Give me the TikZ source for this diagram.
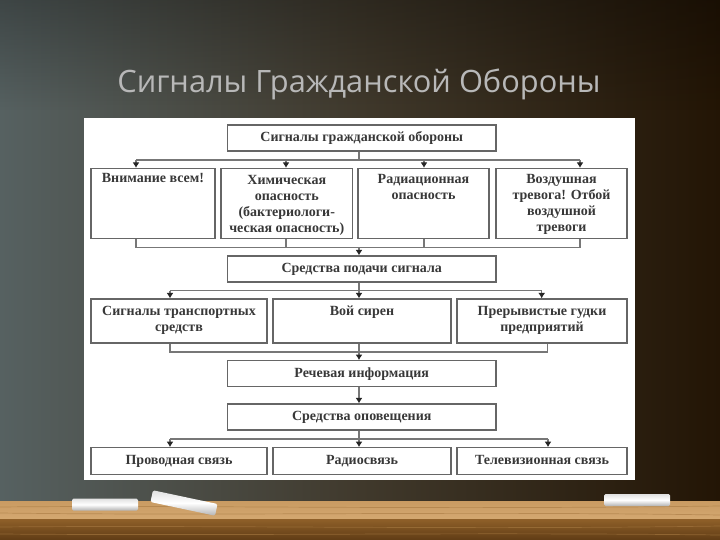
\documentclass[tikz,border=0pt]{standalone}
\usepackage{fontspec}
\setmainfont{Liberation Serif}
\newfontfamily\titlefont{Open Sans}
\usetikzlibrary{arrows.meta,fadings}
\definecolor{slateL}{HTML}{566161}
\definecolor{midB}{HTML}{40392C}
\definecolor{darkR}{HTML}{231505}
\definecolor{boxline}{HTML}{666666}
\definecolor{busline}{HTML}{777777}
\definecolor{woodA}{HTML}{C99B62}
\definecolor{woodB}{HTML}{D4A871}
\definecolor{woodC}{HTML}{8F6029}
\definecolor{woodD}{HTML}{603C15}
\definecolor{woodS}{HTML}{A87A42}
\tikzset{
  boxst/.style={draw=boxline,line width=1.2pt,fill=white,inner sep=0pt},
  lbl/.style={inner sep=0pt,align=center,font=\fontsize{14}{16}\selectfont\bfseries,text=black!78},
  bus/.style={draw=busline,line width=1.3pt},
  arr/.style={bus,-{Latex[length=5.5pt,width=7pt,black!85]}},
  chalk/.style={inner sep=0pt,minimum width=66pt,minimum height=12pt,rounded corners=1.5pt,top color=black!12,bottom color=black!30,middle color=white},
  streak/.style={draw=woodS,line width=.7pt,opacity=.6}
}
\begin{document}
\begin{tikzpicture}[x=1pt,y=-1pt]
\useasboundingbox (0,0) rectangle (720,540);
% board
\shade[left color=slateL,right color=darkR,middle color=midB] (0,0) rectangle (720,502);
\fill[black,opacity=.28,path fading=south] (0,0) rectangle (720,110);
% tray
\shade[top color=woodA,bottom color=woodB] (0,501) rectangle (720,519);
\shade[top color=woodC,bottom color=woodD] (0,519) rectangle (720,540);
\draw[streak] (0,507) .. controls (200,505) and (420,510) .. (720,506);
\draw[streak] (0,513) .. controls (240,516) and (460,511) .. (720,515);
\draw[streak] (0,527) .. controls (220,525) and (470,530) .. (720,526);
\draw[streak] (0,534) .. controls (260,536) and (450,532) .. (720,535);
% chalk
\node[chalk] (chalkA) at (105,504.5) {};
\node[chalk,rotate=-12] (chalkB) at (184,503) {};
\node[chalk] (chalkC) at (637,500) {};
% title
\node[inner sep=0pt,font=\titlefont\fontsize{30.8}{34}\selectfont,text=black!28] (title) at (359,84) {Сигналы Гражданской Обороны};
% sheet
\fill[white] (84,118) rectangle (635,480);
% boxes: centre, size
\node[boxst,minimum width=268.5pt,minimum height=26pt] (top) at (361.75,138) {};
\node[boxst,minimum width=124pt,minimum height=70pt] (r1) at (153,203.5) {};
\node[boxst,minimum width=131.5pt,minimum height=70pt] (r2) at (286.75,203.5) {};
\node[boxst,minimum width=131pt,minimum height=70pt] (r3) at (423.5,203.5) {};
\node[boxst,minimum width=131pt,minimum height=70pt] (r4) at (561.5,203.5) {};
\node[boxst,minimum width=268.5pt,minimum height=26pt] (means) at (361.75,269) {};
\node[boxst,minimum width=176pt,minimum height=44pt] (s1) at (179,321) {};
\node[boxst,minimum width=178pt,minimum height=44pt] (s2) at (362,321) {};
\node[boxst,minimum width=170pt,minimum height=44pt] (s3) at (542,321) {};
\node[boxst,minimum width=268.5pt,minimum height=26pt] (speech) at (361.75,373.7) {};
\node[boxst,minimum width=268.5pt,minimum height=26pt] (notify) at (361.75,417) {};
\node[boxst,minimum width=176pt,minimum height=26.5pt] (c1) at (179,461) {};
\node[boxst,minimum width=178pt,minimum height=26.5pt] (c2) at (362,461) {};
\node[boxst,minimum width=170pt,minimum height=26.5pt] (c3) at (542,461) {};
% texts
\node[lbl] (ttop) at (top.center) {Сигналы гражданской обороны};
\node[lbl,anchor=north] (tr1) at ([yshift=-5pt]r1.north) {Внимание всем!};
\node[lbl,anchor=north] (tr2) at ([yshift=-7pt]r2.north) {Химическая\\опасность\\(бактериологи-\\ческая опасность)};
\node[lbl,anchor=north] (tr3) at ([yshift=-6pt]r3.north) {Радиационная\\опасность};
\node[lbl,anchor=north] (tr4) at ([yshift=-6pt]r4.north) {Воздушная\\тревога! Отбой\\воздушной\\тревоги};
\node[lbl] (tmeans) at (means.center) {Средства подачи сигнала};
\node[lbl,anchor=north] (ts1) at ([yshift=-8pt]s1.north) {Сигналы транспортных\\средств};
\node[lbl,anchor=north] (ts2) at ([yshift=-7pt]s2.north) {Вой сирен};
\node[lbl,anchor=north] (ts3) at ([yshift=-8pt]s3.north) {Прерывистые гудки\\предприятий};
\node[lbl] (tspeech) at (speech.center) {Речевая информация};
\node[lbl] (tnotify) at (notify.center) {Средства оповещения};
\node[lbl] (tc1) at (c1.center) {Проводная связь};
\node[lbl] (tc2) at (c2.center) {Радиосвязь};
\node[lbl] (tc3) at ([yshift=1pt]c3.center) {Телевизионная связь};
% junctions
\coordinate (ba) at (359,160);
\coordinate (ba1) at (136,160);
\coordinate (ba2) at (286,160);
\coordinate (ba3) at (424,160);
\coordinate (ba4) at (580,160);
\coordinate (bb) at (359,247.5);
\coordinate (bb1) at (136,247.5);
\coordinate (bb2) at (286,247.5);
\coordinate (bb3) at (424,247.5);
\coordinate (bb4) at (580,247.5);
\coordinate (bc) at (359,290.7);
\coordinate (bc1) at (170,290.7);
\coordinate (bc3) at (541.7,290.7);
\coordinate (bd) at (359,352);
\coordinate (bd1) at (170,352);
\coordinate (bd3) at (547.7,352);
\coordinate (be) at (359,439);
\coordinate (be1) at (170,439);
\coordinate (be3) at (548,439);
% connectors
\draw[bus] (top.south -| ba) -- (ba);
\draw[bus] (ba1) -- (ba4);
\draw[arr] (ba1) -- (r1.north -| ba1);
\draw[arr] (ba2) -- (r2.north -| ba2);
\draw[arr] (ba3) -- (r3.north -| ba3);
\draw[arr] (ba4) -- (r4.north -| ba4);
\draw[bus] (r1.south -| bb1) -- (bb1) -- (bb4) -- (r4.south -| bb4);
\draw[bus] (r2.south -| bb2) -- (bb2);
\draw[bus] (r3.south -| bb3) -- (bb3);
\draw[arr] (bb) -- (means.north -| bb);
\draw[bus] (means.south -| bc) -- (bc);
\draw[bus] (bc1) -- (bc3);
\draw[arr] (bc1) -- (s1.north -| bc1);
\draw[arr] (bc) -- (s2.north -| bc);
\draw[arr] (bc3) -- (s3.north -| bc3);
\draw[bus] (s1.south -| bd1) -- (bd1) -- (bd3) -- (s3.south -| bd3);
\draw[bus] (s2.south -| bd) -- (bd);
\draw[arr] (bd) -- (speech.north -| bd);
\draw[arr] (speech.south -| bd) -- (notify.north -| bd);
\draw[bus] (notify.south -| be) -- (be);
\draw[bus] (be1) -- (be3);
\draw[arr] (be1) -- (c1.north -| be1);
\draw[arr] (be) -- (c2.north -| be);
\draw[arr] (be3) -- (c3.north -| be3);
\end{tikzpicture}
\end{document}
